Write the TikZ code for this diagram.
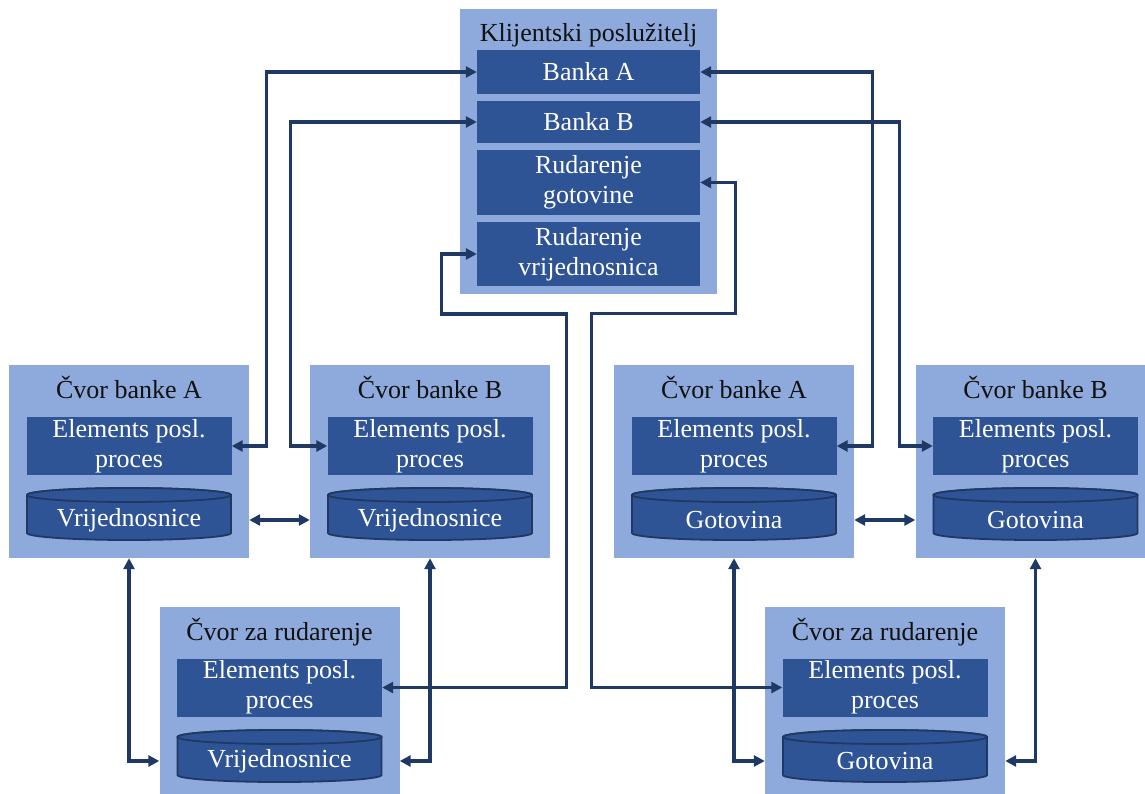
\documentclass[tikz,border=0pt]{standalone}
\usepackage{fontspec}
\setmainfont{Liberation Serif}
\usetikzlibrary{arrows.meta}

\definecolor{boxlight}{HTML}{8EA9DB}
\definecolor{boxdark}{HTML}{2F5496}
\definecolor{linkcol}{HTML}{203864}
\definecolor{dbedge}{HTML}{1F3864}
\definecolor{titlecol}{HTML}{111111}

% cylinder outline around a centre point
\newcommand{\drawdb}[2]{%
  \filldraw[dbshape] (#1-102,#2-19) -- (#1-102,#2+19)
    arc[start angle=180,end angle=360,x radius=102pt,y radius=7pt]
    -- (#1+102,#2-19)
    arc[start angle=0,end angle=180,x radius=102pt,y radius=7pt] -- cycle;
  \draw[dbshape] (#1,#2-19) ellipse[x radius=102pt,y radius=7pt];
}

\begin{document}
\begin{tikzpicture}[x=1pt, y=-1pt,
    every node/.style={font=\fontsize{26}{30}\selectfont, inner sep=0pt},
    outer/.style={fill=boxlight, minimum width=240pt, minimum height=193pt},
    boxtitle/.style={anchor=base, text=titlecol},
    inbox/.style={fill=boxdark, text=white, align=center, minimum width=205pt, minimum height=58pt},
    dbtext/.style={text=white},
    dbshape/.style={fill=boxdark, draw=dbedge, line width=1.8pt},
    >={Triangle[length=11pt,width=11pt]},
    link/.style={draw=linkcol, line width=3.2pt, <->}]
		
		\clip (0,0) rectangle (1145,794);
		
		% Client server with its four parts
		\node[outer, minimum width=257pt, minimum height=285pt] (client) at (588.5,151.5) {};
		\node[boxtitle] (ttC) at (588.5,42) {Klijentski poslužitelj};
		\node[inbox, minimum width=223pt, minimum height=44pt] (bankaA) at (588.5,72) {Banka A};
		\node[inbox, minimum width=223pt, minimum height=42pt] (bankaB) at (588.5,122) {Banka B};
		\node[inbox, minimum width=223pt, minimum height=65pt] (rudGot) at (588.5,182.5) {Rudarenje\\gotovine};
		\node[inbox, minimum width=223pt, minimum height=64pt] (rudVri) at (588.5,254) {Rudarenje\\vrijednosnica};
		
		% Bank nodes
		\foreach \n/\x/\t/\c in {A1/129/Čvor banke A/Vrijednosnice, B1/430/Čvor banke B/Vrijednosnice,
		                         A2/734/Čvor banke A/Gotovina, B2/1035.5/Čvor banke B/Gotovina}{
			\node[outer] (bn\n) at (\x,461.5) {};
			\node[boxtitle] (tt\n) at (\x,398) {\t};
			\node[inbox] (el\n) at (\x,446) {Elements posl.\\proces};
			\drawdb{\x}{514}
			\node[dbtext] (cy\n) at (\x,520) {\c};
		}
		
		% Mining nodes
		\foreach \n/\x/\c in {M1/279.5/Vrijednosnice, M2/885/Gotovina}{
			\node[outer] (mn\n) at (\x,703.5) {};
			\node[boxtitle] (tt\n) at (\x,640) {Čvor za rudarenje};
			\node[inbox] (el\n) at (\x,687.5) {Elements posl.\\proces};
			\drawdb{\x}{756}
			\node[dbtext] (cy\n) at (\x,761) {\c};
		}
		
		% Links from the client server to the bank nodes
		\draw[link] (bankaA.west) -- ++(-210,0) |- (elA1.east);
		\draw[link] (bankaB.west) -- ++(-186,0) |- (elB1.west);
		\draw[link] (bankaA.east) -- ++(172,0) |- (elA2.east);
		\draw[link] (bankaB.east) -- ++(199,0) |- (elB2.west);
		
		% Links from the client server to the mining nodes
		\draw[link] (rudVri.west) -- ++(-35,0) -- ++(0,60) -- ++(125,0) |- (elM1.east);
		\draw[link] (rudGot.east) -- ++(35,0) -- ++(0,131) -- ++(-144,0) |- (elM2.west);
		
		% Links between the ledgers
		\draw[link] (cyA1 -| bnA1.east) -- (cyB1 -| bnB1.west);
		\draw[link] (cyA2 -| bnA2.east) -- (cyB2 -| bnB2.west);
		\draw[link] (bnA1.south) |- (cyM1 -| mnM1.west);
		\draw[link] (bnB1.south) |- (cyM1 -| mnM1.east);
		\draw[link] (bnA2.south) |- (cyM2 -| mnM2.west);
		\draw[link] (bnB2.south) |- (cyM2 -| mnM2.east);
		
	\end{tikzpicture}
\end{document}
